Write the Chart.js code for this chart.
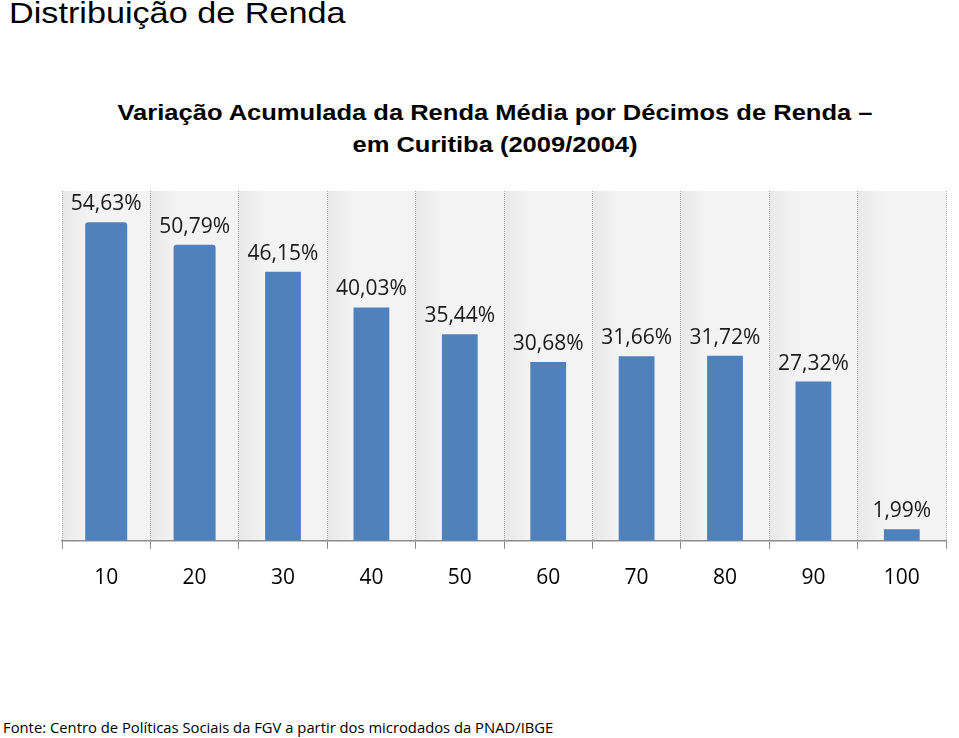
<!DOCTYPE html>
<html>
<head>
<meta charset="utf-8">
<script src="https://cdn.jsdelivr.net/npm/chart.js@4.4.0/dist/chart.umd.min.js"></script>
<style>
    body { margin: 0; background: #fff; width: 959px; height: 738px; overflow: hidden; position: relative; }
    #pageTitle { position: absolute; left: 9px; top: -4px; font: 30px 'Liberation Sans', Arial, sans-serif; color: #000; white-space: nowrap; transform: scaleX(1.14); transform-origin: left top; }
    #chartTitle { position: absolute; left: 0; width: 990px; top: 97px; text-align: center; font: bold 22px/32px 'Liberation Sans', Arial, sans-serif; color: #000; transform: scaleX(1.16); transform-origin: center top; }
    #chartBox { position: absolute; left: 0; top: 150px; width: 959px; height: 470px; }
    #source { position: absolute; left: 3px; top: 717px; font: 14.8px 'Open Sans', sans-serif; color: #000; white-space: nowrap; }
</style>
</head>
<body>
<div id="pageTitle">Distribuição de Renda</div>
<div id="chartTitle">Variação Acumulada da Renda Média por Décimos de Renda –<br>em Curitiba (2009/2004)</div>
<div id="chartBox"><canvas id="rendaChart"></canvas></div>
<div id="source">Fonte: Centro de Políticas Sociais da FGV a partir dos microdados da PNAD/IBGE</div>

<script>
// Décimos de renda
const decimos = ['10', '20', '30', '40', '50', '60', '70', '80', '90', '100'];

// Variação acumulada (%)
const variacao = [54.63, 50.79, 46.15, 40.03, 35.44, 30.68, 31.66, 31.72, 27.32, 1.99];

// the first two bars are drawn wider in the original slide
const barrasLargas = [true, true, false, false, false, false, false, false, false, false];

const azul = '#4f81bd';

function formatPct(v) {
    return v.toFixed(2).replace('.', ',') + '%';
}

// Column background with a soft shade next to each grid line
const columnBackground = {
    id: 'columnBackground',
    beforeDraw(chart) {
        const { ctx, chartArea, scales } = chart;
        const x = scales.x;
        const half = (x.getPixelForValue(1) - x.getPixelForValue(0)) / 2;
        ctx.save();
        decimos.forEach((d, i) => {
            const x0 = x.getPixelForValue(i) - half;
            const x1 = x.getPixelForValue(i) + half;
            const grad = ctx.createLinearGradient(x0, 0, x0 + 26, 0);
            grad.addColorStop(0, '#e8e8e8');
            grad.addColorStop(1, '#f3f3f3');
            ctx.fillStyle = grad;
            ctx.fillRect(x0, chartArea.top, x1 - x0, chartArea.bottom - chartArea.top);
        });
        ctx.restore();
    }
};

// Value labels above bars
const valueLabels = {
    id: 'valueLabels',
    afterDatasetsDraw(chart) {
        const { ctx } = chart;
        ctx.save();
        ctx.font = '21px "Open Sans", sans-serif';
        ctx.fillStyle = '#1a1a1a';
        ctx.textAlign = 'center';
        ctx.textBaseline = 'alphabetic';
        chart.data.datasets.forEach((ds, di) => {
            const meta = chart.getDatasetMeta(di);
            meta.data.forEach((bar, i) => {
                const v = ds.data[i];
                if (v === null) return;
                ctx.fillText(formatPct(v), bar.x, bar.y - 12);
            });
        });
        ctx.restore();
    }
};

function initRendaChart() {
    const ctx = document.getElementById('rendaChart');
    if (!ctx) return;

    const largas = variacao.map((v, i) => barrasLargas[i] ? v : null);
    const estreitas = variacao.map((v, i) => barrasLargas[i] ? null : v);

    new Chart(ctx, {
        type: 'bar',
        data: {
            labels: decimos,
            datasets: [
                {
                    data: largas,
                    backgroundColor: azul,
                    borderRadius: 3,
                    borderSkipped: 'bottom',
                    barPercentage: 0.475,
                    categoryPercentage: 1
                },
                {
                    data: estreitas,
                    backgroundColor: azul,
                    barPercentage: 0.405,
                    categoryPercentage: 1
                }
            ]
        },
        options: {
            responsive: true,
            maintainAspectRatio: false,
            animation: false,
            layout: {
                padding: { left: 62, right: 13, top: 41, bottom: 12 }
            },
            plugins: {
                legend: { display: false },
                tooltip: { enabled: false }
            },
            scales: {
                x: {
                    stacked: true,
                    grid: {
                        offset: true,
                        color: '#a8a8a8',
                        lineWidth: 1,
                        tickColor: '#8c8c8c',
                        tickLength: 8,
                        tickBorderDash: []
                    },
                    border: {
                        display: true,
                        color: '#8c8c8c',
                        width: 1.5,
                        dash: [1, 1]
                    },
                    ticks: {
                        color: '#000',
                        padding: 17,
                        font: { family: 'Open Sans', size: 21 }
                    }
                },
                y: {
                    stacked: true,
                    display: false,
                    min: 0,
                    max: 60
                }
            }
        },
        plugins: [columnBackground, valueLabels]
    });
}

document.addEventListener('DOMContentLoaded', initRendaChart);
</script>
</body>
</html>
